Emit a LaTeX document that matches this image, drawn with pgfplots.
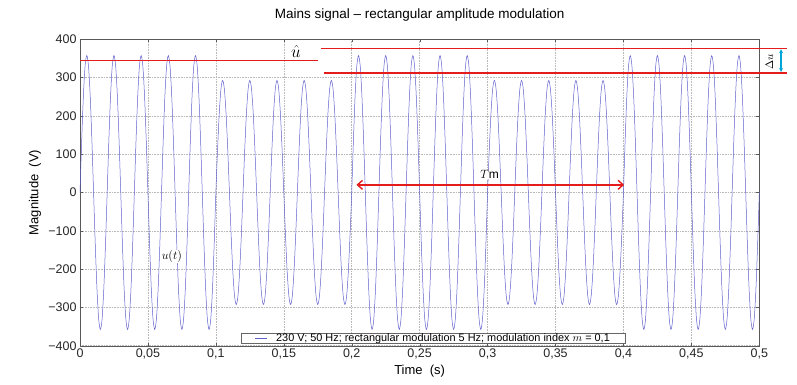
\documentclass[border=0pt]{standalone}
\usepackage{pgfplots}
\pgfplotsset{compat=1.18}
\usepackage{fontspec}
\setmainfont{Liberation Sans}
\usetikzlibrary{arrows.meta}
\definecolor{sig}{RGB}{95,95,205}
\definecolor{ann}{RGB}{228,28,28}
\definecolor{cy}{RGB}{0,165,215}
\begin{document}
\begin{tikzpicture}
\begin{axis}[
  scale only axis, width=679.3pt, height=306.4pt,
  xmin=0, xmax=0.5, ymin=-400, ymax=400,
  xtick={0,0.05,0.1,0.15,0.2,0.25,0.3,0.35,0.4,0.45,0.5},
  xticklabels={0,{0,05},{0,1},{0,15},{0,2},{0,25},{0,3},{0,35},{0,4},{0,45},{0,5}},
  ytick={-400,-300,-200,-100,0,100,200,300,400},
  yticklabels={−400,−300,−200,−100,0,100,200,300,400},
  grid=major, major grid style={line width=0.5pt, gray!55, dash pattern=on 1pt off 0.6pt},
  axis line style={black!65}, tick style={black!65},
  tick align=inside, major tick length=3pt,
  ticklabel style={font=\fontsize{12.5}{14}\selectfont, text=black!85},
  clip=false,
  title={Mains signal – rectangular amplitude modulation},
  title style={font=\fontsize{13.5}{15}\selectfont, at={([yshift=18pt]rel axis cs:0.5,1)}, anchor=center},
  xlabel={Time~~(s)},
  xlabel style={font=\fontsize{13}{15}\selectfont, at={([yshift=-25.5pt]rel axis cs:0.5,0)}, anchor=center},
  ylabel={Magnitude~~(V)},
  ylabel style={font=\fontsize{13}{15}\selectfont, at={([xshift=-45pt]rel axis cs:0,0.5)}, anchor=center},
  legend style={at={(0.2377,0.0072)}, anchor=south west, font=\fontsize{10.9}{11}\selectfont,
    inner xsep=13pt, inner ysep=0pt, nodes={inner ysep=0pt, text height=8pt, text depth=2pt}, draw=black!60, row sep=0pt},
  legend image code/.code={\draw[#1] (0pt,0pt) -- (12pt,0pt);},
  legend cell align=left,
]
\addplot[sig, line width=0.5pt, smooth] coordinates {
(0,0) (0.00125,136.8) (0.0025,252.8) (0.00375,330.3) (0.005,357.5) (0.00625,330.3) (0.0075,252.8) (0.00875,136.8) (0.01,0) (0.01125,-136.8) (0.0125,-252.8) (0.01375,-330.3) (0.015,-357.5) (0.01625,-330.3) (0.0175,-252.8) (0.01875,-136.8)
(0.02,0) (0.02125,136.8) (0.0225,252.8) (0.02375,330.3) (0.025,357.5) (0.02625,330.3) (0.0275,252.8) (0.02875,136.8) (0.03,0) (0.03125,-136.8) (0.0325,-252.8) (0.03375,-330.3) (0.035,-357.5) (0.03625,-330.3) (0.0375,-252.8) (0.03875,-136.8)
(0.04,0) (0.04125,136.8) (0.0425,252.8) (0.04375,330.3) (0.045,357.5) (0.04625,330.3) (0.0475,252.8) (0.04875,136.8) (0.05,0) (0.05125,-136.8) (0.0525,-252.8) (0.05375,-330.3) (0.055,-357.5) (0.05625,-330.3) (0.0575,-252.8) (0.05875,-136.8)
(0.06,0) (0.06125,136.8) (0.0625,252.8) (0.06375,330.3) (0.065,357.5) (0.06625,330.3) (0.0675,252.8) (0.06875,136.8) (0.07,0) (0.07125,-136.8) (0.0725,-252.8) (0.07375,-330.3) (0.075,-357.5) (0.07625,-330.3) (0.0775,-252.8) (0.07875,-136.8)
(0.08,0) (0.08125,136.8) (0.0825,252.8) (0.08375,330.3) (0.085,357.5) (0.08625,330.3) (0.0875,252.8) (0.08875,136.8) (0.09,0) (0.09125,-136.8) (0.0925,-252.8) (0.09375,-330.3) (0.095,-357.5) (0.09625,-330.3) (0.0975,-252.8) (0.09875,-136.8)
(0.10,0) (0.10125,111.9) (0.1025,206.8) (0.10375,270.2) (0.105,292.5) (0.10625,270.2) (0.1075,206.8) (0.10875,111.9) (0.11,0) (0.11125,-111.9) (0.1125,-206.8) (0.11375,-270.2) (0.115,-292.5) (0.11625,-270.2) (0.1175,-206.8) (0.11875,-111.9)
(0.12,0) (0.12125,111.9) (0.1225,206.8) (0.12375,270.2) (0.125,292.5) (0.12625,270.2) (0.1275,206.8) (0.12875,111.9) (0.13,0) (0.13125,-111.9) (0.1325,-206.8) (0.13375,-270.2) (0.135,-292.5) (0.13625,-270.2) (0.1375,-206.8) (0.13875,-111.9)
(0.14,0) (0.14125,111.9) (0.1425,206.8) (0.14375,270.2) (0.145,292.5) (0.14625,270.2) (0.1475,206.8) (0.14875,111.9) (0.15,0) (0.15125,-111.9) (0.1525,-206.8) (0.15375,-270.2) (0.155,-292.5) (0.15625,-270.2) (0.1575,-206.8) (0.15875,-111.9)
(0.16,0) (0.16125,111.9) (0.1625,206.8) (0.16375,270.2) (0.165,292.5) (0.16625,270.2) (0.1675,206.8) (0.16875,111.9) (0.17,0) (0.17125,-111.9) (0.1725,-206.8) (0.17375,-270.2) (0.175,-292.5) (0.17625,-270.2) (0.1775,-206.8) (0.17875,-111.9)
(0.18,0) (0.18125,111.9) (0.1825,206.8) (0.18375,270.2) (0.185,292.5) (0.18625,270.2) (0.1875,206.8) (0.18875,111.9) (0.19,0) (0.19125,-111.9) (0.1925,-206.8) (0.19375,-270.2) (0.195,-292.5) (0.19625,-270.2) (0.1975,-206.8) (0.19875,-111.9)
(0.20,0) (0.20125,136.8) (0.2025,252.8) (0.20375,330.3) (0.205,357.5) (0.20625,330.3) (0.2075,252.8) (0.20875,136.8) (0.21,0) (0.21125,-136.8) (0.2125,-252.8) (0.21375,-330.3) (0.215,-357.5) (0.21625,-330.3) (0.2175,-252.8) (0.21875,-136.8)
(0.22,0) (0.22125,136.8) (0.2225,252.8) (0.22375,330.3) (0.225,357.5) (0.22625,330.3) (0.2275,252.8) (0.22875,136.8) (0.23,0) (0.23125,-136.8) (0.2325,-252.8) (0.23375,-330.3) (0.235,-357.5) (0.23625,-330.3) (0.2375,-252.8) (0.23875,-136.8)
(0.24,0) (0.24125,136.8) (0.2425,252.8) (0.24375,330.3) (0.245,357.5) (0.24625,330.3) (0.2475,252.8) (0.24875,136.8) (0.25,0) (0.25125,-136.8) (0.2525,-252.8) (0.25375,-330.3) (0.255,-357.5) (0.25625,-330.3) (0.2575,-252.8) (0.25875,-136.8)
(0.26,0) (0.26125,136.8) (0.2625,252.8) (0.26375,330.3) (0.265,357.5) (0.26625,330.3) (0.2675,252.8) (0.26875,136.8) (0.27,0) (0.27125,-136.8) (0.2725,-252.8) (0.27375,-330.3) (0.275,-357.5) (0.27625,-330.3) (0.2775,-252.8) (0.27875,-136.8)
(0.28,0) (0.28125,136.8) (0.2825,252.8) (0.28375,330.3) (0.285,357.5) (0.28625,330.3) (0.2875,252.8) (0.28875,136.8) (0.29,0) (0.29125,-136.8) (0.2925,-252.8) (0.29375,-330.3) (0.295,-357.5) (0.29625,-330.3) (0.2975,-252.8) (0.29875,-136.8)
(0.30,0) (0.30125,111.9) (0.3025,206.8) (0.30375,270.2) (0.305,292.5) (0.30625,270.2) (0.3075,206.8) (0.30875,111.9) (0.31,0) (0.31125,-111.9) (0.3125,-206.8) (0.31375,-270.2) (0.315,-292.5) (0.31625,-270.2) (0.3175,-206.8) (0.31875,-111.9)
(0.32,0) (0.32125,111.9) (0.3225,206.8) (0.32375,270.2) (0.325,292.5) (0.32625,270.2) (0.3275,206.8) (0.32875,111.9) (0.33,0) (0.33125,-111.9) (0.3325,-206.8) (0.33375,-270.2) (0.335,-292.5) (0.33625,-270.2) (0.3375,-206.8) (0.33875,-111.9)
(0.34,0) (0.34125,111.9) (0.3425,206.8) (0.34375,270.2) (0.345,292.5) (0.34625,270.2) (0.3475,206.8) (0.34875,111.9) (0.35,0) (0.35125,-111.9) (0.3525,-206.8) (0.35375,-270.2) (0.355,-292.5) (0.35625,-270.2) (0.3575,-206.8) (0.35875,-111.9)
(0.36,0) (0.36125,111.9) (0.3625,206.8) (0.36375,270.2) (0.365,292.5) (0.36625,270.2) (0.3675,206.8) (0.36875,111.9) (0.37,0) (0.37125,-111.9) (0.3725,-206.8) (0.37375,-270.2) (0.375,-292.5) (0.37625,-270.2) (0.3775,-206.8) (0.37875,-111.9)
(0.38,0) (0.38125,111.9) (0.3825,206.8) (0.38375,270.2) (0.385,292.5) (0.38625,270.2) (0.3875,206.8) (0.38875,111.9) (0.39,0) (0.39125,-111.9) (0.3925,-206.8) (0.39375,-270.2) (0.395,-292.5) (0.39625,-270.2) (0.3975,-206.8) (0.39875,-111.9)
(0.40,0) (0.40125,136.8) (0.4025,252.8) (0.40375,330.3) (0.405,357.5) (0.40625,330.3) (0.4075,252.8) (0.40875,136.8) (0.41,0) (0.41125,-136.8) (0.4125,-252.8) (0.41375,-330.3) (0.415,-357.5) (0.41625,-330.3) (0.4175,-252.8) (0.41875,-136.8)
(0.42,0) (0.42125,136.8) (0.4225,252.8) (0.42375,330.3) (0.425,357.5) (0.42625,330.3) (0.4275,252.8) (0.42875,136.8) (0.43,0) (0.43125,-136.8) (0.4325,-252.8) (0.43375,-330.3) (0.435,-357.5) (0.43625,-330.3) (0.4375,-252.8) (0.43875,-136.8)
(0.44,0) (0.44125,136.8) (0.4425,252.8) (0.44375,330.3) (0.445,357.5) (0.44625,330.3) (0.4475,252.8) (0.44875,136.8) (0.45,0) (0.45125,-136.8) (0.4525,-252.8) (0.45375,-330.3) (0.455,-357.5) (0.45625,-330.3) (0.4575,-252.8) (0.45875,-136.8)
(0.46,0) (0.46125,136.8) (0.4625,252.8) (0.46375,330.3) (0.465,357.5) (0.46625,330.3) (0.4675,252.8) (0.46875,136.8) (0.47,0) (0.47125,-136.8) (0.4725,-252.8) (0.47375,-330.3) (0.475,-357.5) (0.47625,-330.3) (0.4775,-252.8) (0.47875,-136.8)
(0.48,0) (0.48125,136.8) (0.4825,252.8) (0.48375,330.3) (0.485,357.5) (0.48625,330.3) (0.4875,252.8) (0.48875,136.8) (0.49,0) (0.49125,-136.8) (0.4925,-252.8) (0.49375,-330.3) (0.495,-357.5) (0.49625,-330.3) (0.4975,-252.8) (0.49875,-136.8)
(0.5,0)
};
\addlegendentry{\hspace*{7pt}230 V; 50 Hz; rectangular modulation 5 Hz; modulation index $m$ = 0,1}
% reference lines
\addplot[ann, line width=1.2pt, forget plot] coordinates {(0,344) (0.1755,344)};
\addplot[ann, line width=1.2pt, forget plot] coordinates {(0.1775,376.5) (0.5206,376.5)};
\addplot[ann, line width=1.2pt, forget plot] coordinates {(0.1795,312) (0.5206,312)};
\draw[cy, line width=1.1pt, {Stealth[length=4pt,width=4pt]}-{Stealth[length=4pt,width=4pt]}] (axis cs:0.516,374) -- (axis cs:0.516,314.5);
\node[rotate=90, font=\fontsize{11}{12}\selectfont] at (axis cs:0.5075,342) {$\Delta u$};
\node[font=\fontsize{17}{17}\selectfont, fill=white, inner sep=1pt] at (axis cs:0.159,367) {$\hat{u}$};
\draw[ann, line width=1.4pt, {Straight Barb[length=5pt,width=9pt]}-{Straight Barb[length=5pt,width=9pt]}] (axis cs:0.2035,20) -- (axis cs:0.4005,20);
\node[font=\fontsize{12}{12}\selectfont, fill=white, inner sep=0.5pt] at (axis cs:0.3015,47) {$T$m};
\node[font=\fontsize{12}{12}\selectfont, fill=white, inner sep=0.5pt] at (axis cs:0.0676,-166) {$u(t)$};
\end{axis}
\path ([shift={(-80pt,-39.3pt)}]current axis.south west) rectangle ([shift={(37.7pt,39.3pt)}]current axis.north east);
\end{tikzpicture}
\end{document}
